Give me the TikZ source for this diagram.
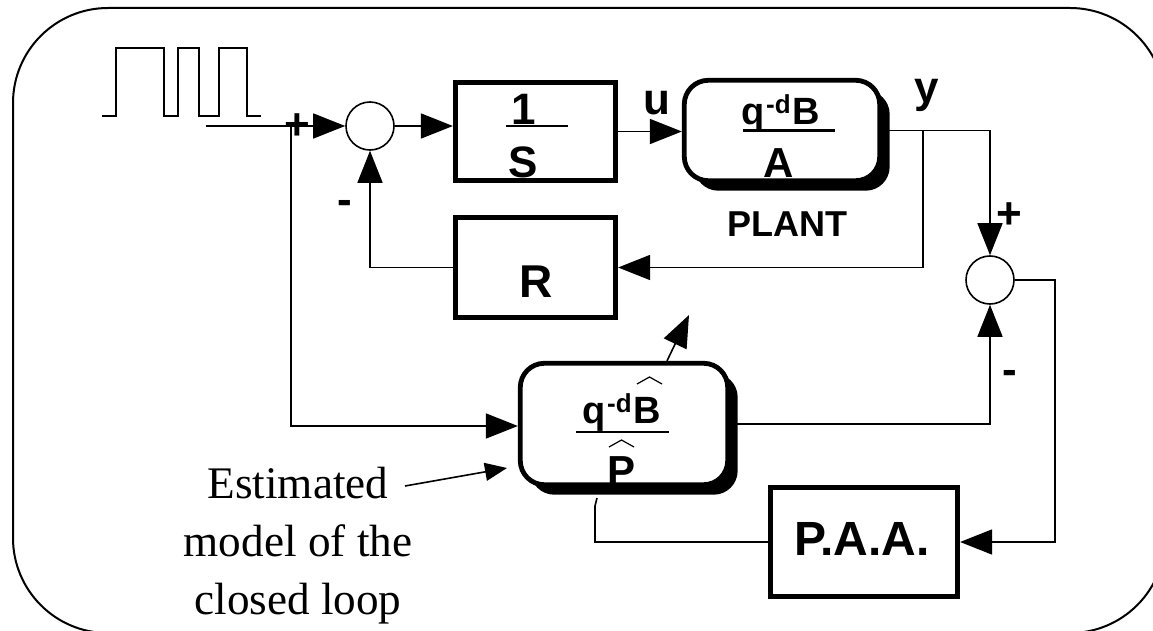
\documentclass[tikz,border=0pt]{standalone}
\usepackage{amsmath}
\usepackage{fontspec}
\setmainfont{Liberation Serif}
\setsansfont{Liberation Sans}
\usetikzlibrary{arrows.meta,positioning,calc,shadows}

\tikzset{
  blk/.style={draw,line width=2.4pt,fill=white,inner sep=0pt},
  rblk/.style={blk,rounded corners=12pt,
    drop shadow={shadow xshift=5pt,shadow yshift=-5pt,opacity=1,fill=black}},
  sum/.style={draw,circle,line width=0.8pt,minimum size=24pt,inner sep=0pt},
  sig/.style={line width=0.8pt},
  tip/.style={sig,-{Triangle[length=16pt,width=12.5pt]}},
  lbl/.style={inner sep=0pt,anchor=base,font=\sffamily\bfseries\fontsize{22}{24}\selectfont},
  hat/.style={line width=0.6pt},
}
% q^{-d} with a large superscript
\newcommand{\qmd}[1]{q\kern0.5pt\raisebox{#1}{\fontsize{13}{14}\selectfont -d}\kern1pt}

\begin{document}
\begin{tikzpicture}[x=0.5pt,y=-0.5pt]
  \useasboundingbox (0,0) rectangle (1153,631);
  \begin{scope}
    \clip (0,0) rectangle (1153,631);
    \draw[line width=1pt,rounded corners=47.5pt] (13,8) rectangle (1165,633);
  \end{scope}

  % test signal
  \draw[sig] (102,116) -- (116,116) -- (116,48) -- (164,48) -- (164,116)
    -- (178,116) -- (178,48) -- (199,48) -- (199,116) -- (219,116)
    -- (219,48) -- (247,48) -- (247,116) -- (261,116);

  % blocks
  \node[sum] (s1) at (370,126) {};
  \node[sum] (s2) at (990,280) {};
  \node[blk,minimum width=80.2pt,minimum height=49.2pt] (intg) at (535.5,131.5) {};
  \node[rblk,minimum width=97.7pt,minimum height=50.2pt] (plant) at (782,130.5) {};
  \node[blk,minimum width=80.2pt,minimum height=50.2pt] (R) at (535.5,267.5) {};
  \node[rblk,minimum width=103.7pt,minimum height=60.7pt] (est) at (624,424) {};
  \node[blk,minimum width=93.7pt,minimum height=54.7pt] (paa) at (864,542) {};

  % block contents
  \node[lbl] (one) at (524,125) {1};
  \node[lbl] (ess) at (523,177) {S};
  \draw[sig] (506,126) -- (568,126);
  \node[lbl,font=\sffamily\bfseries\fontsize{19}{21}\selectfont] (pnum) at (781,125) {\qmd{5.5pt}B};
  \draw[line width=1.5pt] (743,131) -- (835,131);
  \node[lbl,font=\sffamily\bfseries\fontsize{21}{23}\selectfont] (pden) at (779,178) {A};
  \node[lbl,font=\sffamily\bfseries\fontsize{18}{20}\selectfont] (plbl) at (787,237) {PLANT};
  \node[lbl,font=\sffamily\bfseries\fontsize{23}{25}\selectfont] (rlbl) at (536,298) {R};
  \node[lbl,font=\sffamily\bfseries\fontsize{19}{21}\selectfont] (enum) at (622,423) {\qmd{5.5pt}B};
  \draw[sig] (576,432) -- (669,432);
  \node[lbl,font=\sffamily\bfseries\fontsize{21}{23}\selectfont] (eden) at (622,485) {P};
  \draw[hat] (637,384) -- (649.5,377) -- (662,384);
  \draw[hat] (609,447) -- (621.5,440) -- (634,447);
  \node[lbl,font=\sffamily\bfseries\fontsize{24}{26}\selectfont] (albl) at (862,555) {P.A.A.};

  % signs and signal names
  \node[lbl] (ulbl) at (657,115) {u};
  \node[lbl] (ylbl) at (927,103) {y};
  \node[lbl] (plus1) at (297,140) {+};
  \node[lbl] (minus1) at (345,215) {-};
  \node[lbl] (plus2) at (1009,228) {+};
  \node[lbl] (minus2) at (1010,385) {-};

  % connections
  \coordinate (in) at (206,126);
  \coordinate (split) at (291,126);
  \coordinate (ybr) at (923,130.5);
  \coordinate (pin) at (597,498);
  \coordinate (adapt) at (689,315);
  \draw[tip] (in) -- (s1);
  \draw[tip] (split) |- ($(est.west)+(0,2)$);
  \draw[tip] (s1.east) -- (s1.east -| intg.west);
  \draw[tip] (intg.east) -- (intg.east -| plant.west);
  \draw[tip] (plant.east) -| (s2);
  \draw[tip] (ybr) |- (R);
  \draw[tip] (R) -| (s1);
  \draw[tip] (est) -| (s2);
  \draw[tip] (s2.east) -- ++(40,0) |- (paa);
  \draw[sig] (paa) -| ($(pin)+(-2,8)$) -- (pin);
  \draw[tip] ($(est.north)+(43,0)$) -- (adapt);

  % annotation
  \node[inner sep=0pt,align=center,font=\fontsize{22.6}{29}\selectfont] (note) at (298,546)
    {Estimated\\model of the\\closed loop};
  \coordinate (nstart) at (405,486);
  \coordinate (nend) at (507,468);
  \draw[sig,-{Triangle[length=11pt,width=9pt]}] (nstart) -- (nend);
\end{tikzpicture}
\end{document}
